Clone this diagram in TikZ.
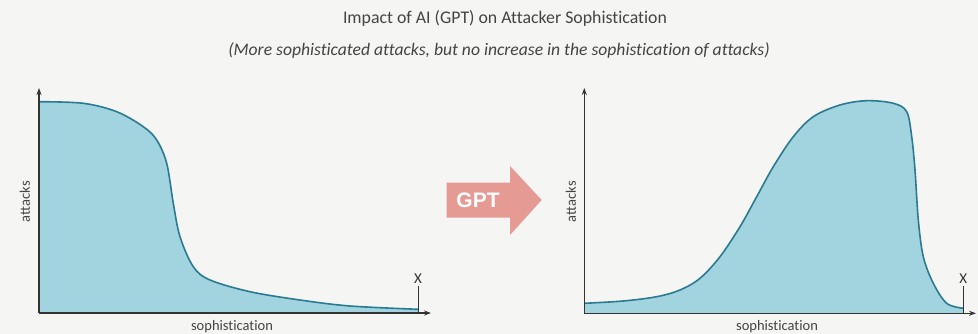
\documentclass[tikz,border=0pt]{standalone}
\usepackage{fontspec}
\setmainfont[Ligatures=NoCommon]{Carlito}
\newfontfamily\gptfont{Liberation Sans}
\usetikzlibrary{arrows.meta}
\definecolor{bgc}{HTML}{F5F5F3}
\definecolor{fillc}{HTML}{A2D4E0}
\definecolor{linec}{HTML}{2A7A92}
\definecolor{axisc}{HTML}{333333}
\definecolor{arrowc}{HTML}{E59A94}
\definecolor{txtc}{HTML}{444444}
\tikzset{
  axisline/.style={draw=axisc, line width=1.2pt, -{Stealth[length=7pt,width=5pt]}},
  markline/.style={draw=axisc, line width=1pt},
  curveline/.style={draw=linec, line width=1.6pt},
  areafill/.style={fill=fillc},
  axlabel/.style={text=txtc, font=\fontsize{14.5}{16}\selectfont, inner sep=0pt},
  xlabel/.style={text=axisc, font=\fontsize{15}{17}\selectfont, inner sep=0pt},
}
\begin{document}
\begin{tikzpicture}[x=1pt,y=-1pt]
\fill[bgc] (0,0) rectangle (978,334);
\useasboundingbox (0,0) rectangle (978,334);
\node[text=txtc, font=\fontsize{17.8}{20}\selectfont, inner sep=0pt] (title) at (505,18) {Impact of AI (GPT) on Attacker Sophistication};
\node[text=txtc, font=\fontsize{17.6}{20}\selectfont\itshape, inner sep=0pt] (subtitle) at (499,50) {(More sophisticated attacks, but no increase in the sophistication of attacks)};
% left chart
\coordinate (Lo) at (39,313);
\coordinate (Ly) at (39,88);
\coordinate (Lx) at (431,313);
\coordinate (Lm) at (418,313);
\coordinate (Lmt) at (418,286);
\fill[areafill] (39,313) -- (39,101.7) -- plot[smooth, tension=0.55] coordinates {(39,101.7) (83.3,103.3) (116.7,111.7) (143.3,126.7) (156.7,140) (166.7,163.3) (173.3,203.3) (180,236.7) (193.3,266.7) (210,280) (250,291.7) (300,300) (350,306) (418,309.3)} -- (418,313) -- cycle;
\draw[curveline] plot[smooth, tension=0.55] coordinates {(39,101.7) (83.3,103.3) (116.7,111.7) (143.3,126.7) (156.7,140) (166.7,163.3) (173.3,203.3) (180,236.7) (193.3,266.7) (210,280) (250,291.7) (300,300) (350,306) (418,309.3)};
\draw[axisline] (Lo) -- (Ly);
\draw[axisline] (Lo) -- (Lx);
\draw[markline] (Lm) -- (Lmt);
\node[xlabel, anchor=south] (LX) at (418,284) {X};
\node[axlabel, rotate=90] (Lylab) at (25,202) {attacks};
\node[axlabel] (Lxlab) at (232,327) {sophistication};
% arrow
\fill[arrowc] (446.7,182.7) -- (510,182.7) -- (510,166) -- (541.7,200) -- (510,235) -- (510,217.7) -- (446.7,217.7) -- cycle;
\node[text=white, font=\gptfont\bfseries\fontsize{21}{24}\selectfont, inner sep=0pt] (gpt) at (478,200) {GPT};
% right chart
\coordinate (Ro) at (584.3,313.3);
\coordinate (Ry) at (584.3,88);
\coordinate (Rx) at (976,313.3);
\coordinate (Rm) at (963.3,313.3);
\coordinate (Rmt) at (963.3,286);
\fill[areafill] (584.3,313.3) -- (584.3,303.3) -- plot[smooth, tension=0.55] coordinates {(584.3,303.3) (623.3,301) (656.7,296.7) (680,290) (700,278.3) (720,256.7) (740,226.7) (756.7,196.7) (773.3,166.7) (793.3,136.7) (813.3,116.7) (840,105) (866.7,100.7) (893.3,103.3) (906.7,111.7) (911.7,136.7) (915,170) (918.3,220) (923.3,256.7) (933.3,283.3) (946.7,303.3) (963.3,308.3)} -- (963.3,313.3) -- cycle;
\draw[curveline] plot[smooth, tension=0.55] coordinates {(584.3,303.3) (623.3,301) (656.7,296.7) (680,290) (700,278.3) (720,256.7) (740,226.7) (756.7,196.7) (773.3,166.7) (793.3,136.7) (813.3,116.7) (840,105) (866.7,100.7) (893.3,103.3) (906.7,111.7) (911.7,136.7) (915,170) (918.3,220) (923.3,256.7) (933.3,283.3) (946.7,303.3) (963.3,308.3)};
\draw[axisline] (Ro) -- (Ry);
\draw[axisline] (Ro) -- (Rx);
\draw[markline] (Rm) -- (Rmt);
\node[xlabel, anchor=south] (RX) at (963.3,284) {X};
\node[axlabel, rotate=90] (Rylab) at (571,202) {attacks};
\node[axlabel] (Rxlab) at (777,327) {sophistication};
\end{tikzpicture}
\end{document}
